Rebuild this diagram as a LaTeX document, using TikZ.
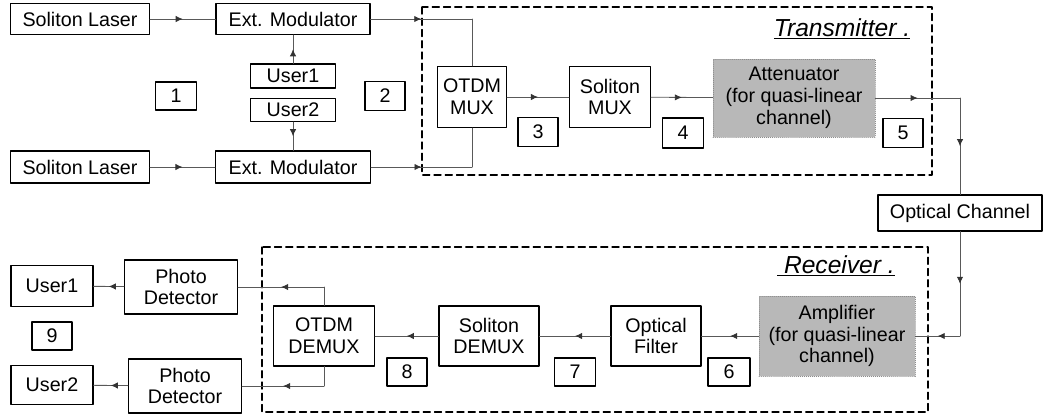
\documentclass[tikz,border=0pt]{standalone}
\usepackage{fontspec}
\setmainfont{Liberation Sans}
\usetikzlibrary{arrows.meta,decorations.markings}

\newcommand\fs{\fontsize{14}{15.5}\selectfont}
\newcommand\fsb{\fontsize{17.5}{19}\selectfont}

\tikzset{
  wh/.style 2 args={minimum width={#1*0.025cm}, minimum height={#2*0.025cm}},
  blk/.style={draw, line width=0.8pt, font=\fs, align=center, inner sep=1pt},
  grey/.style={fill=black!28, draw=black!45, densely dotted, font=\fs, align=center, inner sep=1pt},
  wire/.style={draw=black!65, line width=0.6pt},
  midarr/.style={wire, postaction={decorate, decoration={markings,
      mark=at position 0.5 with {\arrow[black!80]{Latex[length=5pt,width=4.5pt]}}}}},
  frame/.style={line width=0.9pt, dash pattern=on 5pt off 3pt},
  title/.style={font=\fsb\itshape, inner sep=1pt},
}

\begin{document}
\begin{tikzpicture}[x=0.025cm, y=-0.025cm, line cap=round, line join=round]
  \useasboundingbox (0,0) rectangle (1048,417);

  % frames
  \draw[frame] (422,7) rectangle (932,175);
  \draw[frame] (262,247) rectangle (928,412);
  \node[title] (ttx) at (842,29) {\underline{Transmitter .}};
  \node[title] (trx) at (836,266) {\underline{\ Receiver .}};

  % sources and modulators
  \node[blk, wh={139}{31}] (sl1) at (80,19) {Soliton Laser};
  \node[blk, wh={154}{31}] (em1) at (293,19) {Ext. Modulator};
  \node[blk, wh={85}{24}] (u1) at (293,76) {User1};
  \node[blk, wh={85}{23}] (u2) at (293,110) {User2};
  \node[blk, wh={139}{32}] (sl2) at (80,167) {Soliton Laser};
  \node[blk, wh={155}{32}] (em2) at (293,167) {Ext. Modulator};
  \node[blk, wh={41}{28}] (n1) at (176,96) {1};
  \node[blk, wh={40}{29}] (n2) at (385,96) {2};

  % transmitter
  \node[blk, wh={69}{61}] (omux) at (472,97) {OTDM\\MUX};
  \node[blk, wh={81}{61}] (smux) at (610,97) {Soliton\\MUX};
  \node[grey, wh={162}{78}] (att) at (794,98) {Attenuator\\(for quasi-linear\\channel)};
  \node[blk, wh={40}{29}] (n3) at (538,132) {3};
  \node[blk, wh={41}{30}] (n4) at (683,133) {4};
  \node[blk, wh={40}{29}] (n5) at (903,133) {5};

  % channel
  \node[blk, wh={164}{36}] (och) at (960,213) {Optical Channel};

  % receiver
  \node[grey, wh={156}{80}] (amp) at (837,336) {Amplifier\\(for quasi-linear\\channel)};
  \node[blk, wh={90}{60}] (filt) at (656,336) {Optical\\Filter};
  \node[blk, wh={100}{60}] (sdmx) at (489,336) {Soliton\\DEMUX};
  \node[blk, wh={101}{60}] (odmx) at (324,336) {OTDM\\DEMUX};
  \node[blk, wh={42}{28}] (n6) at (729,372) {6};
  \node[blk, wh={41}{28}] (n7) at (575,372) {7};
  \node[blk, wh={40}{28}] (n8) at (407,372) {8};

  % detectors and users
  \node[blk, wh={113}{54}] (pd1) at (181,287) {Photo\\Detector};
  \node[blk, wh={113}{54}] (pd2) at (185,386) {Photo\\Detector};
  \node[blk, wh={82}{41}] (us1) at (52,286) {User1};
  \node[blk, wh={82}{39}] (us2) at (52,385) {User2};
  \node[blk, wh={40}{28}] (n9) at (52,336) {9};

  % corners
  \coordinate (c1) at (omux.north |- em1.east);
  \coordinate (c2) at (omux.south |- em2.east);
  \coordinate (c5) at (och.north |- att.east);
  \coordinate (c6) at (och.south |- amp.east);
  \coordinate (c8) at (odmx.north |- pd1.east);
  \coordinate (c9) at (odmx.south |- pd2.east);

  % connectors
  \path[midarr] (sl1) -- (em1);
  \path[midarr] (sl2) -- (em2);
  \path[midarr] (u1) -- (em1);
  \path[midarr] (u2) -- (em2);
  \path[midarr] (em1) -- (c1);
  \path[wire] (c1) -- (omux);
  \path[midarr] (em2) -- (c2);
  \path[wire] (c2) -- (omux);
  \path[midarr] (omux) -- (smux);
  \path[midarr] (smux) -- (att);
  \path[midarr] (att) -- (c5);
  \path[midarr] (c5) -- (och);
  \path[midarr] (och) -- (c6);
  \path[midarr] (c6) -- (amp);
  \path[midarr] (amp) -- (filt);
  \path[midarr] (filt) -- (sdmx);
  \path[midarr] (sdmx) -- (odmx);
  \path[wire] (odmx) -- (c8);
  \path[midarr] (c8) -- (pd1);
  \path[wire] (odmx) -- (c9);
  \path[midarr] (c9) -- (pd2);
  \path[midarr] (pd1) -- (us1);
  \path[midarr] (pd2) -- (us2);
\end{tikzpicture}
\end{document}
